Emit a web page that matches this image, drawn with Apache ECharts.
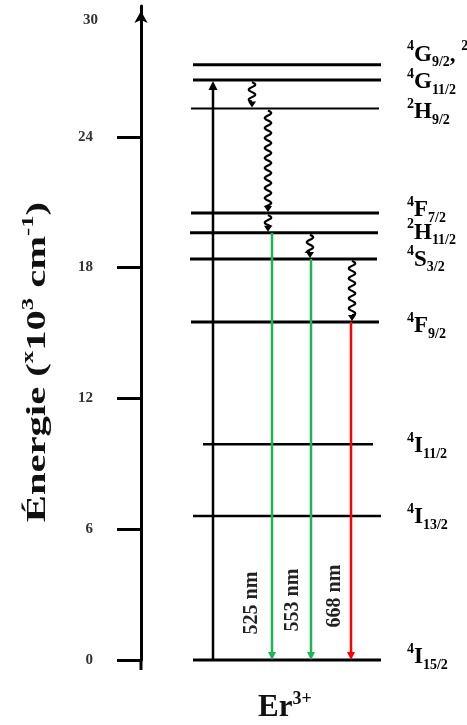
<!DOCTYPE html>
<html><head><meta charset="utf-8">
<script src="https://cdn.jsdelivr.net/npm/echarts@6/dist/echarts.min.js"></script>
<style>html,body{margin:0;padding:0;background:#fff}#c{width:467px;height:725px}</style>
</head><body><div id="c"></div>
<script>
// ---------- data ----------
const yTicks = [0, 6, 12, 18, 24, 30];
const levelEnergy = [27.3, 26.6, 25.3, 20.5, 19.6, 18.4, 15.5, 9.9, 6.6, 0];
// level labels: [multiplicity, term, J]
const levelTerms = [
  [['4','G','9/2'], ['2','K','15/2']],
  [['4','G','11/2']],
  [['2','H','9/2']],
  [['4','F','7/2']],
  [['2','H','11/2']],
  [['4','S','3/2']],
  [['4','F','9/2']],
  [['4','I','11/2']],
  [['4','I','13/2']],
  [['4','I','15/2']]
];
const excitationFrom = [9];
const excitationTo = [1];
const relaxFrom = [1, 2, 3, 4, 5];
const relaxTo = [2, 3, 4, 5, 6];
const emissionFrom = [4, 5, 6];
const emissionTo = [9, 9, 9];
const emissionLabels = ['525 nm', '553 nm', '668 nm'];
const yName = ['Énergie (', 'x', '10', '3', ' cm', '-1', ')'];
const ionName = ['Er', '3+'];

// ---------- layout / style (pixel offsets from the axis) ----------
const SERIF = '"Liberation Serif","Times New Roman",serif';
const L = {
  levelX: [[52,240],[52,240],[50,238],[50,238],[49,237],[49,236],[50,238],[62,232],[52,240],[52,240]],
  levelWidth: [3,3,2,3,3,3,3,2.5,2.5,3],
  labelX: 266,
  labelDy: [-10, 2, 4, -3, 0, 1, 4, 2, 1, -3],
  excitationX: [72],
  relaxX: [111, 127, 127, 169, 211],
  emissionX: [131, 170, 210],
  emissionColor: ['#1fb556', '#1fb556', '#ff0000'],
  emissionLabelX: [111, 152, 194],
  emissionLabelUp: [57, 60, 64]
};

const levelRich = {
  s: {fontFamily: SERIF, fontWeight: 'bold', fontSize: 14, color: '#111', verticalAlign: 'top', lineHeight: 16},
  t: {fontFamily: SERIF, fontWeight: 'bold', fontSize: 23, color: '#111', verticalAlign: 'middle', lineHeight: 30},
  b: {fontFamily: SERIF, fontWeight: 'bold', fontSize: 14, color: '#111', verticalAlign: 'bottom', lineHeight: 16},
  c: {fontFamily: SERIF, fontWeight: 'bold', fontSize: 23, color: '#111', verticalAlign: 'middle', lineHeight: 30}
};
function levelText(i) {
  return levelTerms[i].map(p => '{s|' + p[0] + '}{t|' + p[1] + '}{b|' + p[2] + '}').join('{c|, }');
}

const chart = echarts.init(document.getElementById('c'), null, {renderer: 'canvas'});

const option = {
  animation: false,
  backgroundColor: '#fff',
  grid: {left: 141, right: 0, top: 6, bottom: 65, outerBoundsMode: 'none', containLabel: false},
  xAxis: {type: 'value', min: 0, max: 326, show: false},
  yAxis: {
    type: 'value', min: 0, max: 30, interval: 6,
    axisLine: {show: true, lineStyle: {color: '#000', width: 3}, symbol: ['none', 'arrow'], symbolSize: [10, 12], symbolOffset: [0, -5]},
    axisTick: {show: true, inside: false, length: 24, lineStyle: {color: '#000', width: 3}, customValues: yTicks.slice(0, 5)},
    axisLabel: {
      margin: 48,
      customValues: yTicks,
      formatter: v => v === 30 ? '{t|' + v + '}' : '{n|' + v + '}',
      rich: {
        n: {fontFamily: SERIF, fontWeight: 'bold', fontSize: 15, color: '#333'},
        t: {fontFamily: SERIF, fontWeight: 'bold', fontSize: 15, color: '#333', padding: [28, 0, 0, 0], width: 10, align: 'left'}
      }
    },
    splitLine: {show: false}
  },
  graphic: [{
    type: 'text', x: 38, y: 362, rotation: Math.PI / 2, scaleX: 1.45,
    style: {
      text: '{a|' + yName[0] + '}{p|' + yName[1] + '}{a|' + yName[2] + '}{p|' + yName[3] + '}{a|' + yName[4] + '}{p|' + yName[5] + '}{a|' + yName[6] + '}',
      align: 'center', verticalAlign: 'middle',
      rich: {
        a: {fontFamily: SERIF, fontWeight: 'bold', fontSize: 28, fill: '#111', verticalAlign: 'middle', lineHeight: 36},
        p: {fontFamily: SERIF, fontWeight: 'bold', fontSize: 17, fill: '#111', verticalAlign: 'top', lineHeight: 20}
      }
    }
  }, {
    type: 'text', left: 258, top: 690,
    style: {
      text: '{a|' + ionName[0] + '}{p|' + ionName[1] + '}',
      rich: {
        a: {fontFamily: SERIF, fontWeight: 'bold', fontSize: 31, fill: '#111', verticalAlign: 'middle', lineHeight: 36},
        p: {fontFamily: SERIF, fontWeight: 'bold', fontSize: 18, fill: '#111', verticalAlign: 'top', lineHeight: 20}
      }
    }
  }],
  series: [
    { // axis bottom stub
      type: 'custom', coordinateSystem: 'cartesian2d', silent: true,
      data: [[0, 0]],
      renderItem(params, api) {
        const p = api.coord([0, 0]);
        return {type: 'line', shape: {x1: p[0], y1: p[1], x2: p[0], y2: p[1] + 10}, style: {stroke: '#000', lineWidth: 3}};
      }
    },
    { // energy levels + labels
      type: 'custom', coordinateSystem: 'cartesian2d', silent: true,
      data: levelEnergy.map((e, i) => [i, e]),
      renderItem(params, api) {
        const i = api.value(0), e = api.value(1);
        const a = api.coord([L.levelX[i][0], e]), b = api.coord([L.levelX[i][1], e]);
        const tx = api.coord([L.labelX, e])[0];
        return {type: 'group', children: [
          {type: 'line', shape: {x1: a[0], y1: a[1], x2: b[0], y2: b[1]}, style: {stroke: '#000', lineWidth: L.levelWidth[i]}},
          {type: 'text', x: tx, y: a[1] + L.labelDy[i], style: {text: levelText(i), rich: levelRich, align: 'left', verticalAlign: 'middle'}}
        ]};
      }
    },
    { // excitation arrow
      type: 'custom', coordinateSystem: 'cartesian2d', silent: true,
      data: excitationFrom.map((f, k) => [levelEnergy[f], levelEnergy[excitationTo[k]]]),
      renderItem(params, api) {
        const k = params.dataIndex;
        const x = api.coord([L.excitationX[k], 0])[0];
        const y1 = api.coord([0, api.value(0)])[1];
        const y2 = api.coord([0, api.value(1)])[1] + 1;
        return {type: 'group', children: [
          {type: 'line', shape: {x1: x, y1: y1, x2: x, y2: y2 + 7}, style: {stroke: '#000', lineWidth: 2.5}},
          {type: 'polygon', shape: {points: [[x - 4.5, y2 + 9], [x + 4.5, y2 + 9], [x, y2]]}, style: {fill: '#000'}}
        ]};
      }
    },
    { // non-radiative relaxation (wavy)
      type: 'custom', coordinateSystem: 'cartesian2d', silent: true,
      data: relaxFrom.map((f, k) => [levelEnergy[f], levelEnergy[relaxTo[k]]]),
      renderItem(params, api) {
        const k = params.dataIndex;
        const x = api.coord([L.relaxX[k], 0])[0];
        const y1 = api.coord([0, api.value(0)])[1] + 2;
        const y2 = api.coord([0, api.value(1)])[1] - 1;
        const yEnd = y2 - 6;
        const amp = 3.2, wl = 10;
        const pts = [];
        for (let y = y1; y <= yEnd; y += 0.5) pts.push([x + amp * Math.sin(2 * Math.PI * (y - y1) / wl), y]);
        pts.push([x, yEnd]);
        return {type: 'group', children: [
          {type: 'polyline', shape: {points: pts}, style: {stroke: '#000', lineWidth: 2.2, fill: null}},
          {type: 'polygon', shape: {points: [[x - 4, yEnd], [x + 4, yEnd], [x, y2]]}, style: {fill: '#000'}}
        ]};
      }
    },
    { // radiative emissions
      type: 'custom', coordinateSystem: 'cartesian2d', silent: true,
      data: emissionFrom.map((f, k) => [levelEnergy[f], levelEnergy[emissionTo[k]]]),
      renderItem(params, api) {
        const k = params.dataIndex;
        const x = api.coord([L.emissionX[k], 0])[0];
        const y1 = api.coord([0, api.value(0)])[1];
        const y2 = api.coord([0, api.value(1)])[1];
        const lx = api.coord([L.emissionLabelX[k], 0])[0];
        const c = L.emissionColor[k];
        return {type: 'group', children: [
          {type: 'line', shape: {x1: x, y1: y1, x2: x, y2: y2 - 6}, style: {stroke: c, lineWidth: 2.5}},
          {type: 'polygon', shape: {points: [[x - 4, y2 - 8], [x + 4, y2 - 8], [x, y2]]}, style: {fill: c}},
          {type: 'text', x: lx, y: y2 - L.emissionLabelUp[k], rotation: Math.PI / 2,
            style: {text: emissionLabels[k], fontFamily: SERIF, fontSize: 20, fontWeight: 'bold', fill: '#222', align: 'center', verticalAlign: 'middle'}}
        ]};
      }
    }
  ]
};
chart.setOption(option);
</script>
</body></html>
